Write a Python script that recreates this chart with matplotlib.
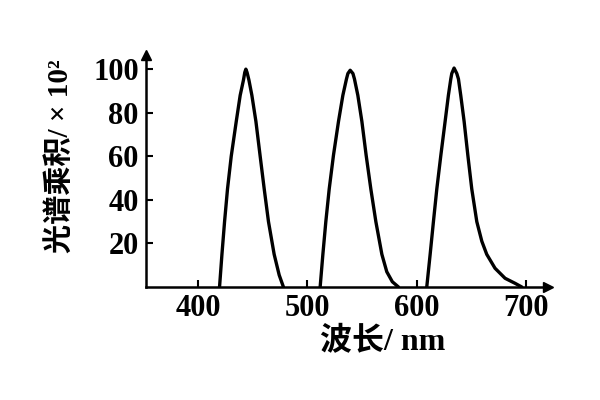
import matplotlib
matplotlib.use("Agg")
import matplotlib.pyplot as plt

# Three bands (wavelength in nm, spectral product x10^2)
blue_nm = [419.5, 421.7, 424.1, 426.8, 430.2, 434.8, 438.4, 441.4, 442.6, 443.6,
           444.7, 446.4, 449.1, 452.8, 456.7, 460.4, 464.3, 469.5, 474.1, 478.0]
blue_val = [0, 15, 30, 45, 60, 76, 88, 95, 98.5, 100,
            98.5, 95, 88, 76, 60, 45, 30, 15, 5.5, 0]

green_nm = [511.6, 514.1, 516.8, 519.9, 523.8, 528.4, 532.4, 535.7, 537.0, 539.1,
            541.6, 543.0, 546.1, 549.8, 553.7, 558.0, 562.6, 568.1, 572.6, 577.7, 583.3]
green_val = [0, 15, 30, 45, 60.5, 76, 88, 95.5, 98, 99.5,
             98, 95.5, 88, 76, 60.5, 45, 30, 15, 7, 2.4, 0]

red_nm = [609.2, 612.3, 615.3, 618.4, 622.1, 626.0, 629.0, 631.2, 632.1, 634.2,
          636.7, 638.2, 640.3, 643.4, 646.8, 650.4, 655.0, 659.6, 664.1, 671.7,
          680.9, 690.0, 696.2]
red_val = [0, 15, 30, 45, 60.5, 76, 88, 95.5, 98, 100.5,
           98, 95.5, 88, 76, 60.5, 45, 30, 21, 15, 8.6,
           4, 1.7, 0]

x_ticks = [400, 500, 600, 700]
y_ticks = [20, 40, 60, 80, 100]

serif_cjk = ["Liberation Serif", "Noto Sans CJK SC", "DejaVu Sans"]

fig = plt.figure(figsize=(6, 4), dpi=100)
ax = fig.add_axes([0.243, 0.2825, 0.67, 0.58])

for xs, ys in [(blue_nm, blue_val), (green_nm, green_val), (red_nm, red_val)]:
    ax.plot(xs, ys, color="black", linewidth=2.4,
            solid_joinstyle="round", solid_capstyle="round")

ax.set_xlim(352, 720)
ax.set_ylim(0, 106.5)

for side in ["top", "right"]:
    ax.spines[side].set_visible(False)
for side in ["left", "bottom"]:
    ax.spines[side].set_linewidth(1.8)

# arrow heads at the ends of both axes
ax.plot(1, 0, ">", color="black", markersize=7, transform=ax.transAxes, clip_on=False)
ax.plot(0, 1, "^", color="black", markersize=7, transform=ax.transAxes, clip_on=False)

ax.set_xticks(x_ticks)
ax.set_yticks(y_ticks)
ax.tick_params(direction="in", length=5, width=1.5, pad=5)
for lab in ax.get_xticklabels() + ax.get_yticklabels():
    lab.set_fontfamily("Liberation Serif")
    lab.set_fontweight("bold")
    lab.set_fontsize(22)

fig.text(0.10, 0.61, "光谱乘积/ × 10²", rotation=90, ha="center", va="center",
         family=serif_cjk, fontsize=21, fontweight="bold")
fig.text(0.637, 0.145, "波长/ nm", ha="center", va="center",
         family=serif_cjk, fontsize=23, fontweight="bold")

fig.savefig("out.png", dpi=100)
